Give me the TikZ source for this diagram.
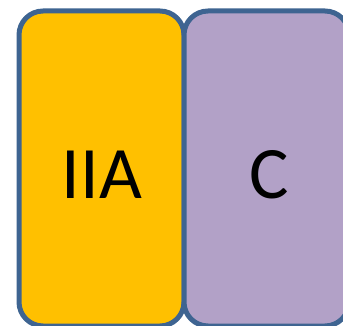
\documentclass[tikz,border=0pt]{standalone}
\usepackage{fontspec}
\setmainfont{Carlito}
\definecolor{bordc}{HTML}{3E6491}
\definecolor{yel}{HTML}{FFC000}
\definecolor{pur}{HTML}{B2A1C7}
\begin{document}
\begin{tikzpicture}[x=1pt,y=-1pt,
  box/.style={draw=bordc,line width=5pt,rounded corners=24pt},
  lbl/.style={font=\fontsize{74}{74}\selectfont,text=black}]
\useasboundingbox (0,0) rectangle (343,326);
\begin{scope}
\clip (0,0) rectangle (343,326);
\draw[box,fill=yel] (19,11) rectangle (184,326);
\draw[box,fill=pur] (184,11) rectangle (349,326);
\end{scope}
\node[lbl] (a) at (102,175) {IIA};
\node[lbl] (c) at (269,175) {C};
\end{tikzpicture}
\end{document}
